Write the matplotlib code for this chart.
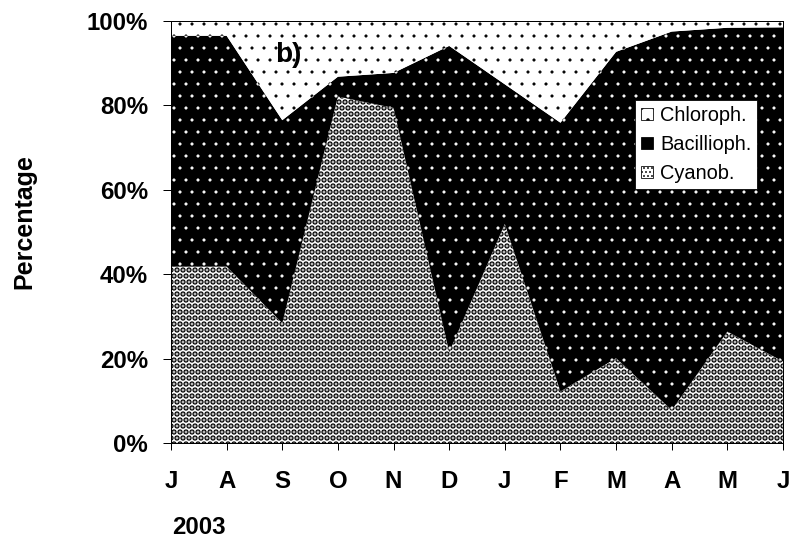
import matplotlib
matplotlib.use("Agg")
import matplotlib.pyplot as plt
from matplotlib.patches import Patch
import numpy as np

plt.rcParams['font.family'] = ['Liberation Sans', 'DejaVu Sans']

months = ["J", "A", "S", "O", "N", "D", "J", "F", "M", "A", "M", "J"]
cyanob = [41.8, 41.8, 28.4, 82.1, 79.4, 21.5, 51.9, 12.2, 20.1, 7.8, 26.4, 19.3]
bacillioph = [54.7, 54.7, 48.1, 4.7, 8.3, 72.6, 33.1, 63.7, 72.6, 89.7, 72.0, 79.2]
chloroph = [3.5, 3.5, 23.5, 13.2, 12.3, 5.9, 15.0, 24.1, 7.3, 2.5, 1.6, 1.5]
yticks = [0, 20, 40, 60, 80, 100]
ytick_labels = ["0%", "20%", "40%", "60%", "80%", "100%"]

W, H, DPI = 789, 538, 72
fig = plt.figure(figsize=(W / DPI, H / DPI), dpi=DPI)
ax = fig.add_axes([171 / W, 1 - 443 / H, (783 - 171) / W, (443 - 21) / H])

x = np.arange(len(months))
c = np.array(cyanob)
b = c + np.array(bacillioph)
t = b + np.array(chloroph)

with plt.rc_context({'hatch.linewidth': 4.0}):
    ax.fill_between(x, 0, c, facecolor='white', edgecolor='black', hatch='..', lw=0)
with plt.rc_context({'hatch.linewidth': 0.6}):
    ax.fill_between(x, c, b, facecolor='black', edgecolor='white', hatch='.', lw=0)
    ax.fill_between(x, b, t, facecolor='white', edgecolor='black', hatch='.', lw=0)

ax.set_xlim(0, len(months) - 1)
ax.set_ylim(0, 100)
ax.set_xticks(x)
ax.set_xticklabels(months, fontsize=24, fontweight='bold')
ax.set_yticks(yticks)
ax.set_yticklabels(ytick_labels, fontsize=24, fontweight='bold')
ax.tick_params(axis='x', direction='out', length=7, width=1, pad=20, colors='black')
ax.tick_params(axis='y', direction='out', length=8, width=1, pad=15, colors='black')
for s in ax.spines.values():
    s.set_linewidth(1.0)
    s.set_color('black')

fig.text(24 / W, 1 - 222 / H, "Percentage", rotation=90, fontsize=25,
         fontweight='bold', ha='center', va='center')
fig.text(199 / W, 1 - 528 / H, "2003", fontsize=24, fontweight='bold',
         ha='center', va='center')
ax.text((288 - 171) / (783 - 171), (443 - 55) / (443 - 21), "b)",
        transform=ax.transAxes, fontsize=28, fontweight='bold', ha='center', va='center')

with plt.rc_context({'hatch.linewidth': 0.6}):
    h1 = Patch(facecolor='white', edgecolor='black', hatch='.', lw=0.8)
    h2 = Patch(facecolor='black', edgecolor='black', lw=0.8)
with plt.rc_context({'hatch.linewidth': 2.8}):
    h3 = Patch(facecolor='white', edgecolor='black', hatch='...', lw=0.8)
leg = ax.legend([h1, h2, h3], ["Chloroph.", "Bacillioph.", "Cyanob."],
                loc='upper left', bbox_to_anchor=((635 - 171) / 612, (443 - 100) / 422),
                borderaxespad=0, fontsize=20, handlelength=0.6, handleheight=0.6,
                handletextpad=0.35, borderpad=0.3, labelspacing=0.5,
                frameon=True, fancybox=False, framealpha=1, edgecolor='black')
leg.get_frame().set_linewidth(0.8)

fig.savefig("out.png", dpi=DPI)
